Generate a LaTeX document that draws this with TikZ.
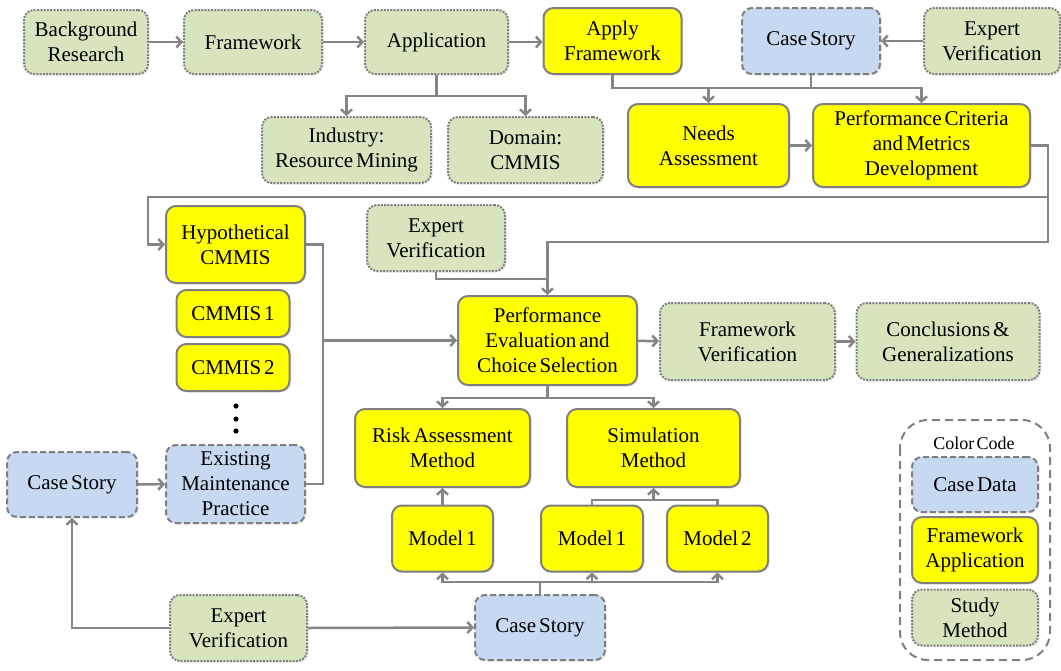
\documentclass[tikz,border=0pt]{standalone}
\usepackage{fontspec}
\setmainfont{LiberationSerif}[Extension=.ttf, UprightFont=*-Regular, BoldFont=*-Bold, ItalicFont=*-Italic, BoldItalicFont=*-BoldItalic, WordSpace=0.55]
\usetikzlibrary{arrows.meta,shadows}
\definecolor{grn}{HTML}{D7E4BD}
\definecolor{blu}{HTML}{C6D9F1}
\definecolor{yel}{HTML}{FFFF00}
\definecolor{bord}{HTML}{7F7F7F}
\definecolor{lin}{HTML}{858585}
\tikzset{
  base/.style={rounded corners=10pt, line width=2pt, draw=bord, align=center,
    inner sep=0pt, font=\rmfamily\fontsize{21}{25}\selectfont,
    drop shadow={opacity=0.15, shadow xshift=1.5pt, shadow yshift=-1.5pt}},
  sz/.style 2 args={minimum width=#1pt, minimum height=#2pt},
  study/.style={base, fill=grn, dash pattern=on 2pt off 1.3pt},
  fwapp/.style={base, fill=yel},
  casedata/.style={base, fill=blu, dash pattern=on 6pt off 3pt},
  conn/.style={draw=lin, line width=2.5pt},
  arr/.style={conn, -{Straight Barb[length=5pt,width=11pt]}},
}
\begin{document}
\begin{tikzpicture}[x=1pt,y=-1pt]
\useasboundingbox (0,0) rectangle (1061,670);

% top row
\node[study, sz={124}{64}] (bg) at (86,42) {Background\\Research};
\node[study, sz={138}{64}] (fw) at (253,42) {Framework};
\node[study, sz={143}{64}] (app) at (436.5,42) {Application};
\node[fwapp, sz={138}{66}] (apply) at (612.5,41) {Apply\\Framework};
\node[casedata, sz={138}{66}] (cs1) at (811,41) {Case Story};
\node[study, sz={136}{66}] (ev1) at (992,41) {Expert\\Verification};

% second row
\node[study, sz={169}{66}] (ind) at (346.5,150) {Industry:\\Resource Mining};
\node[study, sz={155}{66}] (dom) at (525.5,150) {Domain:\\CMMIS};
\node[fwapp, sz={161}{83}] (needs) at (708.5,145.5) {Needs\\Assessment};
\node[fwapp, sz={217}{83}] (pc) at (921.5,145.5) {Performance Criteria\\and Metrics\\Development};

% left column
\node[fwapp, sz={139}{77}] (hyp) at (235.5,244.5) {Hypothetical\\CMMIS};
\node[fwapp, sz={113}{47}] (c1) at (233,313.5) {CMMIS 1};
\node[fwapp, sz={113}{47}] (c2) at (233,367.5) {CMMIS 2};
\fill (236,406) circle (2.6pt) (236,419) circle (2.6pt) (236,431) circle (2.6pt);
\node[casedata, sz={139}{78}] (emp) at (235.5,484) {Existing\\Maintenance\\Practice};
\node[casedata, sz={130}{65}] (cs2) at (72,484.5) {Case Story};
\node[study, sz={137}{66}] (ev3) at (238.5,628) {Expert\\Verification};

% middle
\node[study, sz={138}{66}] (ev2) at (436,238) {Expert\\Verification};
\node[fwapp, sz={179}{89}] (pe) at (547.5,340.5) {Performance\\Evaluation and\\Choice Selection};
\node[study, sz={175}{77}] (fv) at (747.5,341.5) {Framework\\Verification};
\node[study, sz={183}{77}] (concl) at (948,341.5) {Conclusions \&\\Generalizations};
\node[fwapp, sz={175}{78}] (ram) at (442.5,448) {Risk Assessment\\Method};
\node[fwapp, sz={173}{78}] (sim) at (653.5,448) {Simulation\\Method};
\node[fwapp, sz={101}{66}] (m1) at (442.5,538.5) {Model 1};
\node[fwapp, sz={102}{66}] (m2a) at (592,538.5) {Model 1};
\node[fwapp, sz={101}{66}] (m2b) at (717.5,538.5) {Model 2};
\node[casedata, sz={130}{65}] (cs3) at (540,627.5) {Case Story};

% colour legend
\draw[draw=bord, line width=2pt, dash pattern=on 8pt off 5pt, rounded corners=28pt]
  (900,420) rectangle (1050,660);
\node[font=\rmfamily\fontsize{18}{22}\selectfont] (cc) at (974,443) {Color Code};
\node[casedata, sz={126}{55}] (lg1) at (975,484.5) {Case Data};
\node[fwapp, sz={126}{66}] (lg2) at (975,550) {Framework\\Application};
\node[study, sz={126}{56}] (lg3) at (975,617.5) {Study\\Method};

% junction points
\coordinate (j1) at (436.5,96);
\coordinate (hb) at (0,88);
\coordinate (rr) at (1048,197);
\coordinate (ll) at (148,197);
\coordinate (rl) at (1048,242);
\coordinate (evj) at (547.5,279);
\coordinate (vj) at (323,340.5);
\coordinate (pj) at (547.5,398);
\coordinate (sj) at (653.5,500);
\coordinate (cj) at (540,582);

% connectors: top row
\draw[arr] (bg) -- (fw);
\draw[arr] (fw) -- (app);
\draw[arr] (app.east) -- (apply.west |- app.east);
\draw[arr] (ev1) -- (cs1);
\draw[conn] (app.south) -- (j1);
\draw[arr] (j1) -| (ind.north);
\draw[arr] (j1) -| (dom.north);
\draw[conn] (apply.south |- hb) -- (cs1.south |- hb);
\draw[arr] (apply.south) -- (apply.south |- hb) -| (needs.north);
\draw[arr] (cs1.south) -- (cs1.south |- hb) -| (pc.north);
\draw[arr] (needs) -- (pc);

% criteria feed the hypothetical systems and the evaluation
\draw[arr] (pc.east) -| (rr) -- (ll) |- (hyp.west);
\draw[arr] (rr) -- (rl) -| (pe.north);
\draw[conn] (ev2.south) |- (evj);

% alternatives into the evaluation
\draw[conn] (hyp.east) -| (vj);
\draw[conn] (emp.east) -| (vj);
\draw[arr] (vj) -- (pe.west);
\draw[arr] (cs2) -- (emp);
\draw[arr] (ev3.west) -| (cs2.south);
\draw[arr] (ev3.east) -- (cs3.west);

% evaluation outputs
\draw[arr] (pe) -- (fv);
\draw[arr] (fv) -- (concl);
\draw[conn] (pe.south) -- (pj);
\draw[arr] (pj) -| (ram.north);
\draw[arr] (pj) -| (sim.north);

% models
\draw[arr] (m1.north) -- (ram.south);
\draw[conn] (m2a.north) |- (sj) -| (m2b.north);
\draw[arr] (sj) -- (sim.south);
\draw[conn] (cs3.north) -- (cj);
\draw[arr] (cj) -| (m1.south);
\draw[arr] (cj) -| (m2a.south);
\draw[arr] (cj) -| (m2b.south);
\end{tikzpicture}
\end{document}
